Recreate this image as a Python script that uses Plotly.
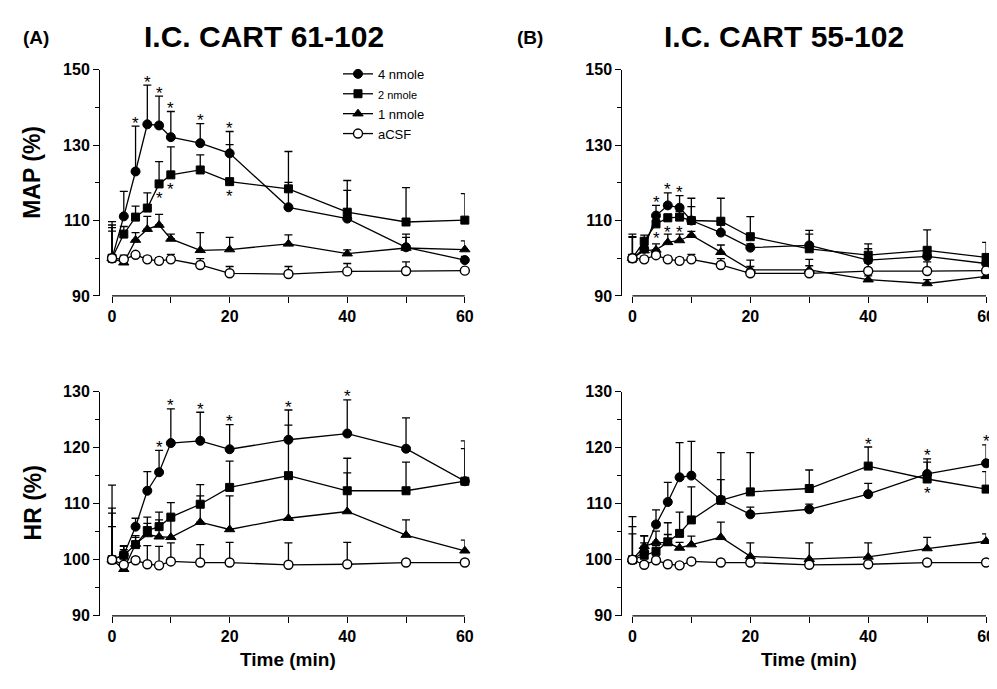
import plotly.graph_objects as go

time = [0, 2, 4, 6, 8, 10, 15, 20, 30, 40, 50, 60]
series_names = ["4 nmole", "2 nmole", "1 nmole", "aCSF"]

# Panel A, MAP (%)
a_map_4 = [100, 111.1, 123.0, 135.5, 135.2, 132.1, 130.5, 127.8, 113.5, 110.5, 102.9, 99.5]
a_map_4_err = [9.7, 6.6, 12.0, 10.4, 7.8, 6.8, 5.2, 5.8, 6.6, 7.5, 2.6, 1.0]
a_map_2 = [100, 106.4, 110.9, 113.3, 119.7, 122.1, 123.4, 120.3, 118.4, 112.2, 109.6, 110.1]
a_map_2_err = [8.1, 2.0, 2.9, 4.0, 5.9, 7.4, 4.0, 9.8, 9.9, 8.4, 9.1, 7.0]
a_map_1 = [100, 98.8, 104.8, 107.7, 108.8, 105.1, 102.1, 102.3, 103.8, 101.2, 102.7, 102.3]
a_map_1_err = [7.2, 2.0, 2.0, 3.4, 2.8, 1.3, 4.7, 3.2, 2.4, 1.0, 3.7, 2.3]
a_map_c = [100, 99.7, 100.9, 99.7, 99.3, 99.7, 98.2, 96.0, 95.8, 96.5, 96.6, 96.7]
a_map_c_err = [8.8, 0.8, 0.5, 0.8, 0.8, 1.3, 1.7, 1.8, 2.0, 2.1, 2.4, 0.5]

# Panel A, HR (%)
a_hr_4 = [100, 100.9, 105.9, 112.3, 115.6, 120.8, 121.2, 119.7, 121.4, 122.5, 119.8, 114.0]
a_hr_4_err = [13.3, 1.6, 1.5, 3.4, 3.9, 6.1, 5.1, 4.4, 5.3, 6.0, 5.5, 7.2]
a_hr_2 = [100, 100.8, 102.7, 105.2, 105.9, 107.6, 109.9, 112.9, 115.0, 112.3, 112.3, 114.0]
a_hr_2_err = [9.2, 1.6, 1.3, 2.4, 2.6, 2.6, 3.5, 4.7, 9.0, 5.8, 5.1, 5.8]
a_hr_1 = [100, 98.3, 102.8, 104.5, 104.1, 104.0, 106.7, 105.4, 107.4, 108.6, 104.4, 101.6]
a_hr_1_err = [8.3, 3.5, 1.5, 2.0, 3.0, 3.0, 4.7, 6.0, 7.5, 6.9, 2.7, 1.9]
a_hr_c = [100, 99.1, 99.9, 99.2, 99.0, 99.7, 99.5, 99.5, 99.1, 99.2, 99.5, 99.5]
a_hr_c_err = [5.9, 1.5, 0.5, 3.3, 3.4, 3.3, 3.2, 3.6, 3.9, 3.9, 0.5, 0.5]

# Panel B, MAP (%)
b_map_4 = [100, 102.5, 111.3, 114.0, 113.4, 110.0, 106.8, 102.8, 103.4, 99.5, 100.5, 98.6]
b_map_4_err = [6.4, 1.0, 2.7, 3.3, 3.2, 5.9, 2.0, 1.0, 4.0, 3.0, 1.5, 1.5]
b_map_2 = [100, 104.5, 109.1, 110.7, 110.9, 110.0, 109.8, 105.7, 102.5, 100.8, 102.1, 100.2]
b_map_2_err = [5.7, 1.6, 1.0, 1.0, 1.5, 3.7, 6.1, 5.3, 3.9, 3.0, 5.4, 4.0]
b_map_1 = [100, 102.0, 102.2, 104.2, 104.7, 106.1, 101.6, 96.9, 96.9, 94.3, 93.3, 95.2]
b_map_1_err = [5.5, 1.0, 1.6, 2.2, 1.7, 1.0, 1.9, 2.6, 2.8, 1.0, 1.0, 1.0]
b_map_c = [100, 99.7, 100.8, 99.7, 99.3, 99.7, 98.2, 96.0, 96.0, 96.6, 96.6, 96.7]
b_map_c_err = [0.5, 0.8, 0.5, 0.8, 0.8, 1.3, 1.7, 1.8, 2.0, 2.1, 2.4, 0.5]

# Panel B, HR (%)
b_hr_4 = [100, 101.4, 106.3, 110.3, 114.7, 115.0, 110.7, 108.1, 109.0, 111.7, 115.3, 117.2]
b_hr_4_err = [7.7, 2.9, 2.6, 3.5, 6.2, 6.1, 8.4, 1.3, 0.9, 1.9, 2.7, 3.3]
b_hr_2 = [100, 100.8, 101.5, 103.2, 104.7, 107.1, 110.6, 112.1, 112.7, 116.7, 114.4, 112.6]
b_hr_2_err = [5.9, 2.2, 1.0, 3.4, 3.8, 5.9, 3.7, 7.0, 3.3, 3.4, 3.0, 3.1]
b_hr_1 = [100, 102.4, 103.1, 103.0, 102.1, 102.7, 104.0, 100.6, 100.1, 100.5, 102.0, 103.3]
b_hr_1_err = [4.6, 1.8, 2.0, 1.5, 1.0, 1.5, 2.7, 2.4, 2.9, 2.5, 2.0, 1.3]
b_hr_c = [100, 99.1, 99.9, 99.2, 99.0, 99.7, 99.5, 99.5, 99.1, 99.2, 99.5, 99.5]
b_hr_c_err = [0.3, 0.5, 0.5, 0.5, 0.5, 0.5, 0.5, 0.5, 0.5, 0.5, 0.5, 0.5]

# significance markers (times)
sig_a_map_4_above = [4, 6, 8, 10, 15, 20]
sig_a_map_2_below = [8, 10, 20]
sig_a_hr_4_above = [8, 10, 15, 20, 30, 40]
sig_b_map_4_above = [4, 6, 8]
sig_b_map_2_below = [4, 6, 8]
sig_b_hr_4_above = [50, 60]
sig_b_hr_2_above = [40]
sig_b_hr_2_below = [50]

FONT = "Liberation Sans, Arial, sans-serif"
W, H = 997, 689

styles = [
    dict(symbol="circle", size=9, color="black", line=dict(color="black", width=1)),
    dict(symbol="square", size=8, color="black", line=dict(color="black", width=1)),
    dict(symbol="triangle-up", size=9, color="black", line=dict(color="black", width=1)),
    dict(symbol="circle", size=9, color="white", line=dict(color="black", width=1.4)),
]

fig = go.Figure()

panels = [
    ("x", "y", [(a_map_4, a_map_4_err), (a_map_2, a_map_2_err), (a_map_1, a_map_1_err), (a_map_c, a_map_c_err)], True),
    ("x2", "y2", [(b_map_4, b_map_4_err), (b_map_2, b_map_2_err), (b_map_1, b_map_1_err), (b_map_c, b_map_c_err)], False),
    ("x3", "y3", [(a_hr_4, a_hr_4_err), (a_hr_2, a_hr_2_err), (a_hr_1, a_hr_1_err), (a_hr_c, a_hr_c_err)], False),
    ("x4", "y4", [(b_hr_4, b_hr_4_err), (b_hr_2, b_hr_2_err), (b_hr_1, b_hr_1_err), (b_hr_c, b_hr_c_err)], False),
]

legend_names = ["4 nmole", "<span style='font-size:11px'>2 nmole</span>", "1 nmole", "aCSF"]

for xa, ya, series, show in panels:
    for i, (vals, errs) in enumerate(series):
        fig.add_trace(go.Scatter(
            x=time, y=vals, xaxis=xa, yaxis=ya,
            mode="lines+markers",
            name=legend_names[i], showlegend=show,
            line=dict(color="black", width=1.3),
            marker=styles[i],
            error_y=dict(type="data", array=errs, arrayminus=[0] * len(errs),
                         symmetric=False, color="black", thickness=1.3, width=4),
            cliponaxis=False,
        ))

annotations = []

def stars(xa, ya, times, vals, errs, above=True):
    for t in times:
        i = time.index(t)
        if above:
            y = vals[i] + errs[i]
            shift = 3
        else:
            y = vals[i]
            shift = -15
        annotations.append(dict(x=t, y=y, xref=xa, yref=ya, text="*", showarrow=False,
                                yanchor="middle", yshift=shift,
                                font=dict(family=FONT, size=17, color="black")))

stars("x", "y", sig_a_map_4_above, a_map_4, a_map_4_err, True)
stars("x", "y", sig_a_map_2_below, a_map_2, a_map_2_err, False)
stars("x3", "y3", sig_a_hr_4_above, a_hr_4, a_hr_4_err, True)
stars("x2", "y2", sig_b_map_4_above, b_map_4, b_map_4_err, True)
stars("x2", "y2", sig_b_map_2_below, b_map_2, b_map_2_err, False)
stars("x4", "y4", sig_b_hr_4_above, b_hr_4, b_hr_4_err, True)
stars("x4", "y4", sig_b_hr_2_above, b_hr_2, b_hr_2_err, True)
stars("x4", "y4", sig_b_hr_2_below, b_hr_2, b_hr_2_err, False)

def txt(text, x, y, size, angle=0, xanchor="center"):
    annotations.append(dict(text=text, x=x / W, y=1 - y / H, xref="paper", yref="paper",
                            showarrow=False, textangle=angle, xanchor=xanchor, yanchor="middle",
                            font=dict(family=FONT, size=size, color="black", weight="bold")))

txt("(A)", 28, 22, 19)
txt("(B)", 527, 22, 19)
txt("I.C. CART 61-102", 258, 21, 30)
txt("I.C. CART 55-102", 783, 21, 30)
txt("MAP (%)", 24, 160, 23, angle=-90)
txt("HR (%)", 25, 499, 23, angle=-90)
txt("Time (min)", 283, 660, 19)
txt("Time (min)", 808, 660, 19)

tickfont = dict(family=FONT, size=16, color="black", weight="bold")

def xaxis_cfg(dom, rng, anchor):
    return dict(domain=dom, range=rng, anchor=anchor, showline=False, showgrid=False, zeroline=False,
                tickmode="array", tickvals=[0, 20, 40, 60], ticks="outside", ticklen=6,
                tickwidth=1.3, tickcolor="black", tickfont=tickfont,
                minor=dict(tickvals=[10, 30, 50], ticks="outside", ticklen=6, tickwidth=1.3, tickcolor="black"))

def yaxis_cfg(dom, rng, dtick, mdtick, anchor):
    return dict(domain=dom, range=rng, anchor=anchor, showline=True, linecolor="black", linewidth=1.3,
                showgrid=False, zeroline=False, tick0=rng[0], dtick=dtick, ticks="outside",
                ticklen=6, tickwidth=1.3, tickcolor="black", tickfont=tickfont,
                minor=dict(tick0=rng[0], dtick=mdtick, ticks="outside", ticklen=4, tickwidth=1.2, tickcolor="black"))

dA = [93 / W, 461 / W]
dB = [620 / W, 987 / W]
dMAP = [1 - 287 / H, 1 - 55 / H]
dHR = [1 - 615 / H, 1 - 385 / H]
rA = [-2.02, 60]
rB = [-1.7, 60]

shapes = []
for xa, ya in [("x", "y"), ("x2", "y2"), ("x3", "y3"), ("x4", "y4")]:
    shapes.append(dict(type="line", xref=xa, yref=ya + " domain", x0=0, x1=60, y0=0, y1=0,
                       line=dict(color="black", width=1.3)))

fig.update_layout(
    width=W, height=H,
    margin=dict(l=0, r=0, t=0, b=0),
    paper_bgcolor="white", plot_bgcolor="white",
    font=dict(family=FONT, color="black"),
    xaxis=xaxis_cfg(dA, rA, "y"),
    yaxis=yaxis_cfg(dMAP, [90, 150], 20, 10, "x"),
    xaxis2=xaxis_cfg(dB, rB, "y2"),
    yaxis2=yaxis_cfg(dMAP, [90, 150], 20, 10, "x2"),
    xaxis3=xaxis_cfg(dA, rA, "y3"),
    yaxis3=yaxis_cfg(dHR, [90, 130], 10, 5, "x3"),
    xaxis4=xaxis_cfg(dB, rB, "y4"),
    yaxis4=yaxis_cfg(dHR, [90, 130], 10, 5, "x4"),
    annotations=annotations,
    shapes=shapes,
    showlegend=True,
    legend=dict(x=333 / W, y=1 - 44 / H, xanchor="left", yanchor="top",
                bgcolor="rgba(0,0,0,0)", font=dict(family=FONT, size=13, color="black"),
                itemwidth=30, tracegroupgap=0),
)

fig.write_html("out.html")
